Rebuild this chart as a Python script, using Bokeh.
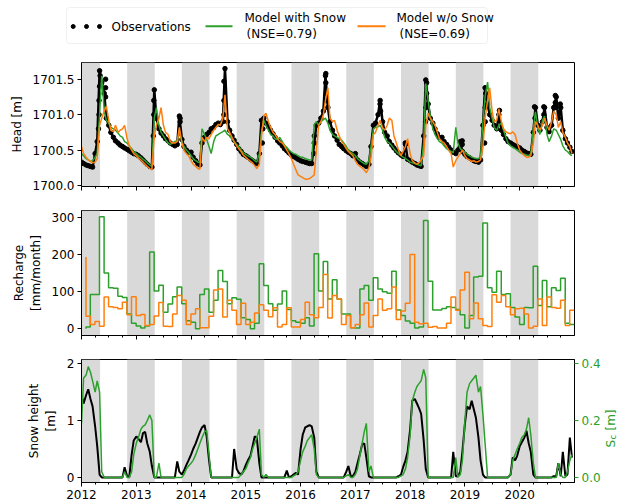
import numpy as np
import pandas as pd
from bokeh.plotting import figure
from bokeh.layouts import column, row
from bokeh.models import Range1d, LinearAxis, FixedTicker, PrintfTickFormatter, BoxAnnotation
from bokeh.core.properties import value
from bokeh.embed import file_html
from bokeh.resources import INLINE

FONT = "DejaVu Sans"
GREEN = "#2ca02c"
ORANGE = "#ff7f0e"
SHADE = "#d9d9d9"

# ---------------------------------------------------------------- data
# sampling dates: heads and snow twice a month, recharge as monthly totals
half_month = pd.date_range("2012-01-01", "2020-12-16", freq="SMS")
month_end = pd.date_range("2012-01-31", periods=108, freq="ME")

# winter periods (shaded)
winter_start = ["2011-11-01", "2012-11-01", "2013-11-01", "2014-11-01", "2015-11-01",
                "2016-11-01", "2017-11-01", "2018-11-01", "2019-11-01"]
winter_end = ["2012-05-04", "2013-05-04", "2014-05-04", "2015-05-04", "2016-05-04",
              "2017-05-04", "2018-05-04", "2019-05-04", "2020-05-04"]

# groundwater head [m]
obs_head = [
    1700.33, 1700.31, 1700.29, 1700.28, 1700.27, 1700.26, 1700.45, 1700.62, 1701.62, 1701.45, 1701.30, 1700.95,
    1700.85, 1700.75, 1700.68, 1700.63, 1700.60, 1700.57, 1700.55, 1700.53, 1700.51, 1700.49, 1700.47, 1700.45,
    1700.44, 1700.42, 1700.39, 1700.36, 1700.33, 1700.30, 1700.27, 1700.26, 1701.35, 1700.95, 1700.80, 1700.74,
    1700.70, 1700.66, 1700.63, 1700.60, 1700.58, 1700.56, 1700.58, 1700.98, 1700.65, 1700.55, 1700.50, 1700.47,
    1700.47, 1700.40, 1700.35, 1700.31, 1700.29, 1700.60, 1700.68, 1700.72, 1700.75, 1700.80, 1700.82, 1700.86,
    1700.88, 1700.86, 1700.90, 1701.65, 1700.90, 1700.78, 1700.70, 1700.64, 1700.58, 1700.52, 1700.48, 1700.44,
    1700.42, 1700.40, 1700.37, 1700.35, 1700.33, 1700.31, 1700.45, 1700.92, 1700.95, 1700.88, 1700.83, 1700.78,
    1700.73, 1700.68, 1700.63, 1700.60, 1700.56, 1700.52, 1700.49, 1700.46, 1700.43, 1700.41, 1700.39, 1700.37,
    1700.35, 1700.34, 1700.33, 1700.32, 1700.31, 1700.31, 1700.60, 1700.85, 1700.88, 1700.95, 1701.05, 1701.55,
    1701.10, 1700.90, 1700.78, 1700.70, 1700.64, 1700.58, 1700.55, 1700.52, 1700.49, 1700.47, 1700.45, 1700.42,
    1700.45, 1700.36, 1700.33, 1700.31, 1700.29, 1700.27, 1700.30, 1700.55, 1700.85, 1700.88, 1701.00, 1701.20,
    1700.90, 1700.75, 1700.70, 1700.62, 1700.57, 1700.53, 1700.49, 1700.46, 1700.43, 1700.41, 1700.58, 1700.37,
    1700.35, 1700.33, 1700.31, 1700.29, 1700.28, 1700.27, 1700.70, 1701.49, 1701.15, 1700.95, 1700.88, 1700.80,
    1700.73, 1700.68, 1700.68, 1700.62, 1700.58, 1700.54, 1700.50, 1700.47, 1700.45, 1700.50, 1700.62, 1700.48,
    1700.44, 1700.41, 1700.39, 1700.37, 1700.35, 1700.34, 1700.33, 1700.36, 1700.85, 1701.38, 1701.15, 1701.00,
    1700.92, 1700.85, 1700.80, 1701.00, 1700.78, 1700.72, 1700.66, 1700.62, 1700.60, 1700.58, 1700.56, 1700.55,
    1700.53, 1700.50, 1700.48, 1700.46, 1700.45, 1700.44, 1700.75, 1701.10, 1700.85, 1700.78, 1700.90, 1701.10,
    1700.82, 1700.76, 1700.85, 1701.10, 1701.25, 1700.95, 1701.10, 1700.78, 1700.66, 1700.60, 1700.54, 1700.48,
]
# single high readings during the spring peaks
obs_extra_year = [2012.31, 2012.32, 2012.32, 2012.33, 2012.34, 2012.44, 2012.44, 2012.44,
                  2013.31, 2013.32, 2013.32, 2013.80, 2013.80, 2014.60, 2014.60, 2014.60,
                  2015.30, 2015.31, 2016.24, 2016.25, 2016.46, 2016.46, 2016.47, 2016.47,
                  2017.45, 2017.46, 2017.91, 2018.28, 2018.29, 2018.30, 2018.30, 2018.95,
                  2018.95, 2019.36, 2019.37, 2019.37, 2019.38, 2019.63, 2020.27, 2020.28,
                  2020.44, 2020.44, 2020.65, 2020.65, 2020.66, 2020.74]
obs_extra_head = [1700.80, 1701.00, 1701.20, 1701.40, 1701.55, 1701.50, 1701.38, 1701.25,
                  1700.70, 1701.00, 1701.20, 1700.95, 1700.90, 1701.47, 1701.20, 1701.00,
                  1700.60, 1700.80, 1700.45, 1700.70, 1701.58, 1701.45, 1701.30, 1701.20,
                  1701.15, 1701.05, 1700.60, 1700.90, 1701.10, 1701.30, 1701.45, 1700.63,
                  1700.58, 1700.60, 1700.90, 1701.10, 1701.30, 1701.06, 1701.11, 1700.95,
                  1701.11, 1701.00, 1701.27, 1701.17, 1701.10, 1701.15]

head_with_snow = [
    1700.45, 1700.42, 1700.38, 1700.36, 1700.34, 1700.35, 1700.40, 1700.45, 1701.00, 1701.55, 1701.05, 1700.92,
    1700.88, 1700.82, 1700.80, 1700.78, 1700.74, 1700.70, 1700.68, 1700.62, 1700.60, 1700.56, 1700.52, 1700.48,
    1700.45, 1700.42, 1700.40, 1700.37, 1700.35, 1700.32, 1700.29, 1700.27, 1700.95, 1701.10, 1700.85, 1700.75,
    1700.70, 1700.65, 1700.60, 1700.58, 1700.60, 1700.62, 1700.63, 1700.75, 1700.62, 1700.55, 1700.50, 1700.47,
    1700.42, 1700.38, 1700.35, 1700.33, 1700.33, 1700.80, 1700.72, 1700.65, 1700.55, 1700.45, 1700.62, 1700.70,
    1700.72, 1700.74, 1700.76, 1700.78, 1700.72, 1700.70, 1700.66, 1700.62, 1700.58, 1700.55, 1700.50, 1700.46,
    1700.44, 1700.42, 1700.40, 1700.38, 1700.35, 1700.33, 1700.45, 1700.75, 1700.92, 1700.85, 1700.78, 1700.72,
    1700.70, 1700.66, 1700.65, 1700.68, 1700.62, 1700.57, 1700.54, 1700.50, 1700.47, 1700.45, 1700.44, 1700.42,
    1700.40, 1700.40, 1700.38, 1700.37, 1700.36, 1700.36, 1700.86, 1700.90, 1700.85, 1700.90, 1700.93, 1700.95,
    1700.88, 1700.78, 1700.72, 1700.70, 1700.68, 1700.66, 1700.64, 1700.60, 1700.55, 1700.50, 1700.47, 1700.45,
    1700.42, 1700.38, 1700.35, 1700.33, 1700.31, 1700.30, 1700.35, 1700.55, 1700.80, 1700.82, 1700.83, 1700.85,
    1700.78, 1700.68, 1700.62, 1700.60, 1700.56, 1700.52, 1700.48, 1700.45, 1700.42, 1700.40, 1700.38, 1700.36,
    1700.33, 1700.32, 1700.31, 1700.30, 1700.29, 1700.28, 1700.60, 1701.44, 1701.20, 1700.98, 1700.80, 1700.72,
    1700.66, 1700.62, 1700.60, 1700.56, 1700.52, 1700.50, 1700.48, 1700.46, 1700.82, 1700.60, 1700.52, 1700.50,
    1700.47, 1700.44, 1700.42, 1700.40, 1700.39, 1700.38, 1700.38, 1700.40, 1700.90, 1701.25, 1701.46, 1701.10,
    1700.95, 1700.82, 1700.78, 1700.85, 1700.88, 1700.78, 1700.68, 1700.60, 1700.56, 1700.54, 1700.52, 1700.50,
    1700.47, 1700.45, 1700.44, 1700.43, 1700.42, 1700.45, 1700.80, 1701.04, 1700.82, 1700.72, 1700.92, 1700.98,
    1700.72, 1700.62, 1700.70, 1700.80, 1700.78, 1700.72, 1700.65, 1700.56, 1700.50, 1700.48, 1700.44, 1700.42,
]
head_without_snow = [
    1700.55, 1700.45, 1700.40, 1700.36, 1700.34, 1700.32, 1700.33, 1700.38, 1700.85, 1700.95, 1701.05, 1701.12,
    1700.92, 1700.78, 1700.76, 1700.85, 1700.75, 1700.78, 1700.80, 1700.85, 1700.66, 1700.56, 1700.50, 1700.45,
    1700.42, 1700.39, 1700.36, 1700.33, 1700.30, 1700.27, 1700.24, 1700.22, 1700.70, 1700.85, 1700.95, 1701.10,
    1700.85, 1700.75, 1700.72, 1700.62, 1700.60, 1700.60, 1700.62, 1700.82, 1700.60, 1700.50, 1700.45, 1700.42,
    1700.35, 1700.30, 1700.27, 1700.24, 1700.23, 1700.68, 1700.62, 1700.68, 1700.66, 1700.72, 1700.78, 1700.82,
    1700.86, 1700.85, 1700.95, 1701.28, 1700.80, 1700.75, 1700.68, 1700.62, 1700.56, 1700.52, 1700.48, 1700.43,
    1700.40, 1700.37, 1700.34, 1700.32, 1700.28, 1700.24, 1700.30, 1700.70, 1700.98, 1701.02, 1700.90, 1700.82,
    1700.75, 1700.72, 1700.66, 1700.62, 1700.60, 1700.56, 1700.50, 1700.45, 1700.38, 1700.30, 1700.22, 1700.15,
    1700.13, 1700.11, 1700.09, 1700.09, 1700.10, 1700.12, 1700.15, 1700.50, 1700.85, 1700.90, 1701.00, 1701.20,
    1701.38, 1700.95, 1700.90, 1700.92, 1700.78, 1700.70, 1700.62, 1700.58, 1700.52, 1700.48, 1700.45, 1700.42,
    1700.35, 1700.30, 1700.27, 1700.25, 1700.22, 1700.18, 1700.25, 1700.40, 1700.72, 1700.75, 1700.85, 1700.92,
    1700.82, 1700.78, 1700.85, 1700.95, 1700.92, 1700.70, 1700.60, 1700.50, 1700.42, 1700.48, 1700.55, 1700.66,
    1700.45, 1700.35, 1700.32, 1700.30, 1700.32, 1700.36, 1700.42, 1700.85, 1701.02, 1700.95, 1700.90, 1700.85,
    1700.75, 1700.66, 1700.62, 1700.60, 1700.55, 1700.50, 1700.45, 1700.26, 1700.35, 1700.40, 1700.45, 1700.50,
    1700.42, 1700.38, 1700.36, 1700.34, 1700.35, 1700.33, 1700.34, 1700.36, 1700.55, 1700.95, 1701.20, 1701.38,
    1701.05, 1700.90, 1700.92, 1701.08, 1700.90, 1700.80, 1700.76, 1700.74, 1700.73, 1700.76, 1700.72, 1700.60,
    1700.50, 1700.46, 1700.42, 1700.40, 1700.40, 1700.42, 1700.60, 1700.90, 1700.85, 1700.78, 1700.85, 1700.95,
    1700.85, 1700.78, 1700.90, 1701.05, 1701.00, 1700.82, 1700.90, 1700.75, 1700.68, 1700.60, 1700.55, 1700.45,
]

# monthly recharge [mm/month]
recharge_with_snow = [
    0, 5, 93, 93, 303, 151, 111, 110, 88, 85, 40, 15,
    8, 2, 8, 208, 102, 118, 45, 67, 87, 113, 68, 22,
    18, 0, 93, 108, 45, 77, 158, 128, 68, 84, 80, 30,
    25, 0, 15, 176, 117, 68, 50, 67, 102, 52, 22, 18,
    15, 30, 8, 203, 102, 182, 81, 133, 81, 40, 40, 3,
    2, 108, 117, 77, 138, 108, 100, 96, 156, 51, 36, 21,
    15, 2, 5, 293, 129, 51, 51, 55, 60, 58, 52, 38,
    2, 36, 140, 142, 286, 111, 99, 156, 93, 95, 58, 32,
    12, 58, 57, 169, 63, 131, 60, 111, 104, 137, 15, 12,
]
recharge_without_snow = [
    194, 34, 12, 20, 7, 86, 60, 58, 54, 72, 38, 87,
    36, 39, 9, 12, 35, 71, 7, 6, 40, 90, 77, 12,
    40, 54, 3, 3, 34, 105, 108, 32, 77, 50, 12, 69,
    12, 18, 43, 65, 50, 33, 57, 5, 12, 57, 5, 5,
    25, 72, 38, 30, 58, 147, 29, 90, 81, 12, 36, 3,
    12, 38, 70, 5, 36, 81, 50, 54, 113, 25, 48, 69,
    201, 18, 14, 15, 4, 6, 2, 2, 15, 86, 50, 105,
    153, 27, 70, 27, 9, 6, 92, 72, 90, 60, 38, 54,
    56, 40, 2, 7, 81, 9, 86, 58, 56, 77, 9, 50,
]

# observed snow height [m]
snow_height_obs = [
    1.45, 1.30, 1.45, 1.55, 1.38, 1.25, 0.90, 0.55, 0.05, 0, 0, 0, 0, 0, 0, 0, 0, 0, 0, 0.18, 0.02, 0.00, 0.40, 0.65,
    0.72, 0.68, 0.62, 0.78, 0.80, 0.60, 0.45, 0.20, 0.00, 0, 0, 0, 0, 0, 0, 0, 0, 0, 0.28, 0.10, 0.05, 0.12, 0.22, 0.30,
    0.40, 0.50, 0.60, 0.70, 0.80, 0.88, 0.92, 0.72, 0.30, 0.00, 0, 0, 0, 0, 0, 0, 0, 0, 0, 0.50, 0.15, 0.08, 0.05, 0.10,
    0.22, 0.30, 0.38, 0.55, 0.72, 0.70, 0.25, 0.00, 0, 0, 0, 0, 0, 0, 0, 0, 0, 0, 0.12, 0.00, 0.02, 0.05, 0.08, 0.05,
    0.50, 0.75, 0.88, 0.90, 0.92, 0.90, 0.70, 0.10, 0.00, 0, 0, 0, 0, 0, 0, 0, 0, 0, 0, 0, 0.10, 0.20, 0.02, 0.02,
    0.10, 0.25, 0.42, 0.58, 0.60, 0.35, 0.02, 0, 0, 0, 0, 0, 0, 0, 0, 0, 0, 0, 0, 0.02, 0.05, 0.18, 0.30, 0.45,
    0.85, 1.35, 1.38, 1.30, 1.22, 1.12, 0.65, 0.15, 0, 0, 0, 0, 0, 0, 0, 0, 0, 0, 0, 0.45, 0.02, 0.02, 0.10, 0.45,
    0.95, 1.25, 1.20, 1.35, 1.20, 1.05, 0.70, 0.30, 0.05, 0, 0, 0, 0, 0, 0, 0, 0, 0, 0, 0, 0.05, 0.35, 0.30, 0.38,
    0.55, 0.62, 0.70, 0.82, 0.60, 0.45, 0.05, 0, 0, 0, 0, 0, 0, 0, 0, 0.02, 0.02, 0.25, 0.02, 0.45, 0.02, 0.05, 0.70, 0.35,
]
# modelled snow storage S_c [m]
snow_storage_model = [
    0.19, 0.35, 0.36, 0.39, 0.37, 0.34, 0.30, 0.34, 0.30, 0.02, 0, 0, 0, 0, 0, 0, 0, 0, 0, 0.02, 0, 0, 0.02, 0.08,
    0.12, 0.14, 0.17, 0.18, 0.185, 0.20, 0.22, 0.20, 0.0, 0.0, 0.05, 0, 0, 0, 0, 0, 0, 0, 0, 0, 0, 0.01, 0.03, 0.04,
    0.05, 0.06, 0.08, 0.10, 0.12, 0.14, 0.16, 0.165, 0.08, 0, 0, 0, 0, 0, 0, 0, 0, 0, 0, 0, 0, 0.0, 0.01, 0.02,
    0.03, 0.05, 0.07, 0.10, 0.12, 0.14, 0.17, 0.01, 0, 0.01, 0, 0, 0, 0, 0, 0, 0, 0, 0, 0, 0, 0.005, 0.01, 0.02,
    0.06, 0.09, 0.11, 0.13, 0.14, 0.15, 0.10, 0.01, 0, 0, 0, 0, 0, 0, 0, 0, 0, 0, 0, 0, 0.005, 0.01, 0, 0,
    0.01, 0.03, 0.08, 0.12, 0.16, 0.19, 0.02, 0.04, 0, 0, 0, 0, 0, 0, 0, 0, 0, 0, 0, 0, 0.005, 0.01, 0.03, 0.07,
    0.15, 0.27, 0.30, 0.32, 0.33, 0.34, 0.38, 0.35, 0, 0, 0, 0, 0, 0, 0, 0, 0, 0, 0, 0, 0.07, 0, 0.01, 0.06,
    0.20, 0.30, 0.33, 0.34, 0.35, 0.36, 0.30, 0.32, 0.22, 0.12, 0, 0, 0, 0, 0, 0, 0, 0, 0, 0, 0.01, 0.06, 0.08, 0.10,
    0.12, 0.14, 0.15, 0.17, 0.21, 0.15, 0.05, 0, 0, 0, 0, 0, 0, 0, 0, 0, 0, 0.05, 0.01, 0, 0, 0.02, 0.06, 0.08,
]

YEAR_TICKS = list(range(2012, 2021))
QUARTER_TICKS = [y + q for y in range(2012, 2021) for q in (0.25, 0.5, 0.75)]


def decimal_year(dates):
    dates = pd.DatetimeIndex(dates)
    days = np.where(dates.is_leap_year, 366.0, 365.0)
    return np.asarray(dates.year, dtype=float) + (np.asarray(dates.dayofyear, dtype=float) - 1.0) / days


t_half = decimal_year(half_month)
t_month = decimal_year(month_end)
t_win0 = decimal_year(winter_start)
t_win1 = decimal_year(winter_end)


# ---------------------------------------------------------------- helpers
def style_axis(ax, size="12px"):
    ax.axis_line_color = "black"
    ax.major_tick_line_color = "black"
    ax.minor_tick_line_color = "black"
    ax.major_tick_in = 0
    ax.major_tick_out = 4
    ax.minor_tick_in = 0
    ax.minor_tick_out = 2
    ax.major_label_text_font = FONT
    ax.major_label_text_font_size = size
    ax.major_label_text_color = "black"
    ax.major_label_standoff = 3
    ax.axis_label_text_font = FONT
    ax.axis_label_text_font_size = "12px"
    ax.axis_label_text_font_style = "normal"
    ax.axis_label_text_color = "black"
    ax.axis_label_standoff = 6


def make_panel(y_lo, y_hi, frame_h, top, bottom, show_dates=False):
    p = figure(frame_width=493, frame_height=frame_h,
               x_range=Range1d(2012.0, 2021.0), y_range=Range1d(y_lo, y_hi),
               min_border_left=81, min_border_right=28,
               min_border_top=top, min_border_bottom=bottom,
               output_backend="svg", toolbar_location=None)
    p.grid.visible = False
    p.outline_line_color = "black"
    p.outline_line_width = 1
    p.outline_line_alpha = 1
    p.background_fill_color = "white"
    p.border_fill_color = "white"
    for a, b in zip(t_win0, t_win1):
        p.add_layout(BoxAnnotation(left=a, right=b, fill_color=SHADE, fill_alpha=1.0,
                                   line_color=None, level="underlay"))
    xa = p.xaxis[0]
    style_axis(xa)
    xa.ticker = FixedTicker(ticks=YEAR_TICKS, minor_ticks=QUARTER_TICKS)
    if not show_dates:
        # ticks only, the dates are printed under the bottom panel
        xa.major_label_text_color = None
        xa.major_label_text_font_size = "1px"
        xa.major_label_standoff = 0
    ya = p.yaxis[0]
    style_axis(ya)
    ya.minor_tick_line_color = None
    return p


# ---------------------------------------------------------------- legend strip
leg = figure(width=617, height=52, x_range=Range1d(0, 617), y_range=Range1d(52, 0),
             min_border=0, output_backend="svg", toolbar_location=None,
             x_axis_type=None, y_axis_type=None)
leg.grid.visible = False
leg.outline_line_color = None
leg.add_layout(BoxAnnotation(left=66, right=487, top=7, bottom=43, fill_color="white",
                             fill_alpha=1, line_color="#cccccc", line_width=1,
                             border_radius=3, level="underlay"))
leg.scatter(x=[72.7, 86, 99], y=[26, 26, 26], size=4, color="black")
leg.line(x=[205, 232], y=[25.7, 25.7], color=GREEN, line_width=2)
leg.line(x=[357, 385], y=[25.7, 25.7], color=ORANGE, line_width=2)
leg_txt = dict(text_font=value(FONT), text_font_size="12px", text_baseline="middle",
               text_color="black")
leg.text(x=[111], y=[26], text=["Observations"], **leg_txt)
leg.text(x=[244, 246], y=[17, 33], text=["Model with Snow", "(NSE=0.79)"], **leg_txt)
leg.text(x=[396, 399], y=[17, 33], text=["Model w/o Snow", "(NSE=0.69)"], **leg_txt)

# ---------------------------------------------------------------- heads
p1 = make_panel(1699.986, 1701.736, 124, 10, 12)
p1.yaxis[0].ticker = FixedTicker(ticks=[1700.0, 1700.5, 1701.0, 1701.5])
p1.yaxis[0].formatter = PrintfTickFormatter(format="%.1f")
p1.yaxis[0].axis_label = "Head [m]"
p1.line(t_half, obs_head, color="black", line_width=2.5)
p1.scatter(t_half, obs_head, size=4.5, color="black")
p1.scatter(obs_extra_year, obs_extra_head, size=4.5, color="black")
p1.line(t_half, head_with_snow, color=GREEN, line_width=1.5)
p1.line(t_half, head_without_snow, color=ORANGE, line_width=1.5)

# ---------------------------------------------------------------- recharge
p2 = make_panel(-18, 320, 125, 12, 12)
p2.yaxis[0].ticker = FixedTicker(ticks=[0, 100, 200, 300])
p2.yaxis[0].axis_label = "Recharge\n[mm/month]"
p2.step(t_month, recharge_with_snow, mode="before", color=GREEN, line_width=1.5)
p2.step(t_month, recharge_without_snow, mode="before", color=ORANGE, line_width=1.5)

# ---------------------------------------------------------------- snow
p3 = make_panel(-0.09, 2.075, 123, 12, 19, show_dates=True)
p3.yaxis[0].ticker = FixedTicker(ticks=[0, 1, 2])
p3.yaxis[0].axis_label = "Snow height\n[m]"
p3.extra_y_ranges = {"sc": Range1d(-0.018, 0.415)}
right = LinearAxis(y_range_name="sc", ticker=FixedTicker(ticks=[0.0, 0.2, 0.4]),
                   formatter=PrintfTickFormatter(format="%.1f"))
style_axis(right)
right.minor_tick_line_color = None
right.major_tick_line_color = GREEN
right.major_label_text_color = GREEN
p3.add_layout(right, "right")
p3.line(t_half, snow_height_obs, color="black", line_width=2)
p3.line(t_half, snow_storage_model, y_range_name="sc", color=GREEN, line_width=1.5)

# ---------------------------------------------------------------- right-hand title strip (S with subscript c)
side = figure(width=15, height=449, x_range=Range1d(602, 617), y_range=Range1d(501, 52),
              min_border=0, output_backend="svg", toolbar_location=None,
              x_axis_type=None, y_axis_type=None)
side.grid.visible = False
side.outline_line_color = None
side_txt = dict(text_font=value(FONT), text_baseline="middle", text_align="left",
                text_color=GREEN, angle=np.pi / 2)
side.text(x=[609.3], y=[447], text=["S"], text_font_size="12px", **side_txt)
side.text(x=[611.8], y=[439], text=["c"], text_font_size="8.5px", **side_txt)
side.text(x=[609.3], y=[430], text=["[m]"], text_font_size="12px", **side_txt)

layout = column(leg, row(column(p1, p2, p3, spacing=0), side, spacing=0), spacing=0)
open("out.html", "w").write(file_html(layout, INLINE, title="Head, recharge and snow"))
